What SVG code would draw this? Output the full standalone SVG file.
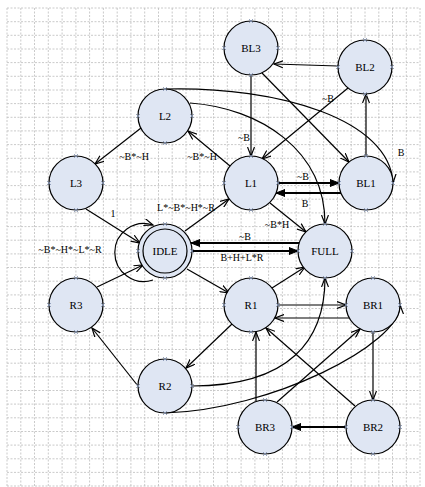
<svg xmlns="http://www.w3.org/2000/svg" xmlns:xlink="http://www.w3.org/1999/xlink" width="425" height="487" viewBox="0 0 425 487">
<style>
.grid line{stroke:#bdbdbd;stroke-width:0.8;stroke-dasharray:2,1.5}
.node circle{fill:#dfe6f3;stroke:#000;stroke-width:1.2}
.node text{font-family:"Liberation Serif","Times New Roman",serif;font-size:11px;text-anchor:middle;fill:#000}
.edges path,.edges line{fill:none;stroke:#000;stroke-width:1.2;marker-end:url(#a)}
.edges .thick{stroke-width:2;marker-end:url(#af)}
.lbl{font-family:"Liberation Serif","Times New Roman",serif;font-size:10px;text-anchor:middle;fill:#000}
.cp{stroke:#8090b0;stroke-width:0.8;fill:none}
</style>
<defs>
<marker id="a" markerUnits="userSpaceOnUse" markerWidth="10" markerHeight="8" refX="9" refY="4" orient="auto" viewBox="0 0 10 8">
<path d="M0,0.5 L9,4 L0,7.5" fill="none" stroke="#000" stroke-width="1.2"/>
</marker>
<marker id="af" markerUnits="userSpaceOnUse" markerWidth="10" markerHeight="8" refX="9" refY="4" orient="auto" viewBox="0 0 10 8">
<path d="M0,0.5 L9,4 L0,7.5 Z" fill="#000" stroke="#000" stroke-width="1"/>
</marker>
<g id="cps" class="cp">
<path d="M-2,-29 l4,4 m0,-4 l-4,4"/>
<path d="M-2,25 l4,4 m0,-4 l-4,4"/>
<path d="M-29,-2 l4,4 m0,-4 l-4,4"/>
<path d="M25,-2 l4,4 m0,-4 l-4,4"/>
</g>
</defs>
<rect width="425" height="487" fill="#fff"/>
<g class="grid">
<line x1="7" y1="8" x2="7" y2="487"/><line x1="20.8" y1="8" x2="20.8" y2="487"/><line x1="34.5" y1="8" x2="34.5" y2="487"/><line x1="48.3" y1="8" x2="48.3" y2="487"/><line x1="62.1" y1="8" x2="62.1" y2="487"/><line x1="75.9" y1="8" x2="75.9" y2="487"/><line x1="89.6" y1="8" x2="89.6" y2="487"/><line x1="103.4" y1="8" x2="103.4" y2="487"/><line x1="117.2" y1="8" x2="117.2" y2="487"/><line x1="130.9" y1="8" x2="130.9" y2="487"/><line x1="144.7" y1="8" x2="144.7" y2="487"/><line x1="158.5" y1="8" x2="158.5" y2="487"/><line x1="172.2" y1="8" x2="172.2" y2="487"/><line x1="186" y1="8" x2="186" y2="487"/><line x1="199.8" y1="8" x2="199.8" y2="487"/><line x1="213.5" y1="8" x2="213.5" y2="487"/><line x1="227.3" y1="8" x2="227.3" y2="487"/><line x1="241.1" y1="8" x2="241.1" y2="487"/><line x1="254.9" y1="8" x2="254.9" y2="487"/><line x1="268.6" y1="8" x2="268.6" y2="487"/><line x1="282.4" y1="8" x2="282.4" y2="487"/><line x1="296.2" y1="8" x2="296.2" y2="487"/><line x1="309.9" y1="8" x2="309.9" y2="487"/><line x1="323.7" y1="8" x2="323.7" y2="487"/><line x1="337.5" y1="8" x2="337.5" y2="487"/><line x1="351.2" y1="8" x2="351.2" y2="487"/><line x1="365" y1="8" x2="365" y2="487"/><line x1="378.8" y1="8" x2="378.8" y2="487"/><line x1="392.5" y1="8" x2="392.5" y2="487"/><line x1="406.3" y1="8" x2="406.3" y2="487"/><line x1="420" y1="8" x2="420" y2="487"/>
<line x1="7" y1="8" x2="420" y2="8"/><line x1="7" y1="21.7" x2="420" y2="21.7"/><line x1="7" y1="35.3" x2="420" y2="35.3"/><line x1="7" y1="49" x2="420" y2="49"/><line x1="7" y1="62.6" x2="420" y2="62.6"/><line x1="7" y1="76.3" x2="420" y2="76.3"/><line x1="7" y1="90" x2="420" y2="90"/><line x1="7" y1="103.6" x2="420" y2="103.6"/><line x1="7" y1="117.3" x2="420" y2="117.3"/><line x1="7" y1="130.9" x2="420" y2="130.9"/><line x1="7" y1="144.6" x2="420" y2="144.6"/><line x1="7" y1="158.3" x2="420" y2="158.3"/><line x1="7" y1="171.9" x2="420" y2="171.9"/><line x1="7" y1="185.6" x2="420" y2="185.6"/><line x1="7" y1="199.2" x2="420" y2="199.2"/><line x1="7" y1="212.9" x2="420" y2="212.9"/><line x1="7" y1="226.6" x2="420" y2="226.6"/><line x1="7" y1="240.2" x2="420" y2="240.2"/><line x1="7" y1="253.9" x2="420" y2="253.9"/><line x1="7" y1="267.5" x2="420" y2="267.5"/><line x1="7" y1="281.2" x2="420" y2="281.2"/><line x1="7" y1="294.9" x2="420" y2="294.9"/><line x1="7" y1="308.5" x2="420" y2="308.5"/><line x1="7" y1="322.2" x2="420" y2="322.2"/><line x1="7" y1="335.8" x2="420" y2="335.8"/><line x1="7" y1="349.5" x2="420" y2="349.5"/><line x1="7" y1="363.2" x2="420" y2="363.2"/><line x1="7" y1="376.8" x2="420" y2="376.8"/><line x1="7" y1="390.5" x2="420" y2="390.5"/><line x1="7" y1="404.1" x2="420" y2="404.1"/><line x1="7" y1="417.8" x2="420" y2="417.8"/><line x1="7" y1="431.5" x2="420" y2="431.5"/><line x1="7" y1="445.1" x2="420" y2="445.1"/><line x1="7" y1="458.8" x2="420" y2="458.8"/><line x1="7" y1="472.4" x2="420" y2="472.4"/><line x1="7" y1="486" x2="420" y2="486"/>
</g>
<g id="connectors" class="edges">
<line x1="338" y1="66" x2="274" y2="64"/>
<line x1="251" y1="75" x2="251" y2="156"/>
<line x1="348" y1="88" x2="262" y2="159"/>
<line x1="262" y1="73" x2="349" y2="162"/>
<line x1="366" y1="156" x2="366" y2="94"/>
<path d="M165,89 C280,86 390,120 393,183"/>
<path d="M190,103 C260,108 325,150 325,224"/>
<line x1="230" y1="166" x2="188" y2="131"/>
<line x1="141" y1="128" x2="95" y2="164"/>
<line x1="86" y1="209" x2="140" y2="243"/>
<line x1="97" y1="287" x2="143" y2="265"/>
<path d="M153,280 A29,29 0 1 1 153,225"/>
<line x1="185" y1="231" x2="229" y2="199"/>
<line class="thick" x1="299" y1="243" x2="191" y2="243"/>
<line class="thick" x1="192" y1="251" x2="298" y2="251"/>
<line class="thick" x1="278" y1="183" x2="339" y2="183"/>
<line class="thick" x1="341" y1="193" x2="276" y2="193"/>
<line x1="270" y1="203" x2="306" y2="232"/>
<line x1="187" y1="269" x2="229" y2="293"/>
<line x1="272" y1="288" x2="305" y2="267"/>
<line x1="278" y1="305" x2="346" y2="305"/>
<line x1="349" y1="318" x2="275" y2="318"/>
<line x1="232" y1="324" x2="186" y2="368"/>
<line x1="138" y1="386" x2="92" y2="328"/>
<path d="M192,386 C290,386 325,340 325,278"/>
<path d="M165,413 C270,410 400,345 400,305"/>
<line x1="256" y1="401" x2="256" y2="332"/>
<line x1="277" y1="402" x2="360" y2="329"/>
<line x1="355" y1="406" x2="266" y2="328"/>
<line x1="373" y1="332" x2="373" y2="400"/>
<line class="thick" x1="346" y1="427" x2="292" y2="427"/>
</g>
<g id="labels">
<text class="lbl" x="244" y="141">~B</text>
<text class="lbl" x="328" y="102">~B</text>
<text class="lbl" x="401" y="156">B</text>
<text class="lbl" x="134" y="160">~B*~H</text>
<text class="lbl" x="202" y="160">~B*~H</text>
<text class="lbl" x="113" y="217">1</text>
<text class="lbl" x="186" y="211">L*~B*~H*~R</text>
<text class="lbl" x="70" y="253">~B*~H*~L*~R</text>
<text class="lbl" x="245" y="240">~B</text>
<text class="lbl" x="242" y="261">B+H+L*R</text>
<text class="lbl" x="303" y="180">~B</text>
<text class="lbl" x="305" y="207">B</text>
<text class="lbl" x="277" y="228">~B*H</text>
</g>
<g id="BL3" class="node"><circle cx="251" cy="48" r="27"/><use xlink:href="#cps" x="251" y="48"/><text x="251" y="52">BL3</text></g>
<g id="BL2" class="node"><circle cx="365" cy="67" r="27"/><use xlink:href="#cps" x="365" y="67"/><text x="365" y="71">BL2</text></g>
<g id="L2" class="node"><circle cx="165" cy="116" r="27"/><use xlink:href="#cps" x="165" y="116"/><text x="165" y="120">L2</text></g>
<g id="L3" class="node"><circle cx="76" cy="183" r="27"/><use xlink:href="#cps" x="76" y="183"/><text x="76" y="187">L3</text></g>
<g id="L1" class="node"><circle cx="251" cy="183" r="27"/><use xlink:href="#cps" x="251" y="183"/><text x="251" y="187">L1</text></g>
<g id="BL1" class="node"><circle cx="366" cy="183" r="27"/><use xlink:href="#cps" x="366" y="183"/><text x="366" y="187">BL1</text></g>
<g id="IDLE" class="node"><circle cx="165" cy="251" r="27"/><circle cx="165" cy="251" r="22"/><use xlink:href="#cps" x="165" y="251"/><text x="165" y="255">IDLE</text></g>
<g id="FULL" class="node"><circle cx="325" cy="251" r="27"/><use xlink:href="#cps" x="325" y="251"/><text x="325" y="255">FULL</text></g>
<g id="R3" class="node"><circle cx="76" cy="305" r="27"/><use xlink:href="#cps" x="76" y="305"/><text x="76" y="309">R3</text></g>
<g id="R1" class="node"><circle cx="251" cy="305" r="27"/><use xlink:href="#cps" x="251" y="305"/><text x="251" y="309">R1</text></g>
<g id="BR1" class="node"><circle cx="373" cy="305" r="27"/><use xlink:href="#cps" x="373" y="305"/><text x="373" y="309">BR1</text></g>
<g id="R2" class="node"><circle cx="165" cy="386" r="27"/><use xlink:href="#cps" x="165" y="386"/><text x="165" y="390">R2</text></g>
<g id="BR3" class="node"><circle cx="265" cy="427" r="27"/><use xlink:href="#cps" x="265" y="427"/><text x="265" y="431">BR3</text></g>
<g id="BR2" class="node"><circle cx="373" cy="427" r="27"/><use xlink:href="#cps" x="373" y="427"/><text x="373" y="431">BR2</text></g>
</svg>
